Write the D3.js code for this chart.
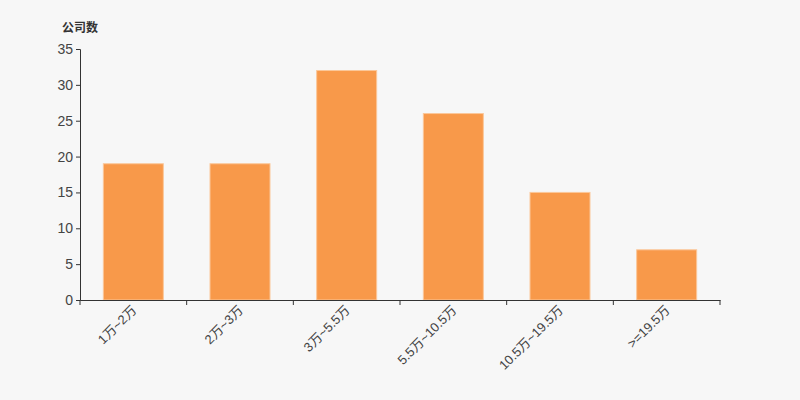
<!DOCTYPE html>
<html>
<head>
<meta charset="utf-8">
<script src="https://cdn.jsdelivr.net/npm/d3@7"></script>
<style>
  body { margin: 0; background: #f7f7f7; }
  text { font-family: "Liberation Sans", Arial, "Noto Sans CJK SC", sans-serif; }
</style>
</head>
<body>
<main></main>
<script>
// data
let categories = ["1万~2万", "2万~3万", "3万~5.5万", "5.5万~10.5万", "10.5万~19.5万", ">=19.5万"]
let counts = [19, 19, 32, 26, 15, 7]
let yTicks = [0, 5, 10, 15, 20, 25, 30, 35]

let svg = d3.select('main').append('svg')
    .attr('width', 800)
    .attr('height', 400)
    .style('background', '#f7f7f7')

let x = d3.scaleBand()
    .domain(categories)
    .range([80, 720])
    .paddingInner(0)
    .paddingOuter(0)

let y = d3.scaleLinear()
    .domain([0, 35])
    .range([300, 49])

// bars
svg.append('g').selectAll('rect')
    .data(counts)
    .join('rect')
    .attr('x', (d, i) => x(categories[i]) + x.bandwidth() / 2 - 30)
    .attr('y', d => y(d))
    .attr('width', 60)
    .attr('height', d => y(0) - y(d))
    .attr('fill', '#f8994a')
    .attr('stroke', '#fbc79a')
    .attr('stroke-width', 1)

// y axis
let yAxis = svg.append('g')
    .attr('transform', 'translate(80,0)')
    .call(d3.axisLeft(y).tickValues(yTicks).tickSize(4).tickPadding(3))
yAxis.selectAll('path, line').attr('stroke', '#333')
yAxis.selectAll('text').attr('fill', '#444').style('font-size', '14px')

// x axis
let xAxis = svg.append('g')
    .attr('transform', 'translate(0,300)')
    .call(d3.axisBottom(x).tickSize(0).tickFormat(''))
xAxis.select('.domain').attr('stroke', '#333')
xAxis.selectAll('.tick').remove()

// tick marks at band edges
let edges = categories.map(c => x(c)).concat([x.range()[1]])
svg.append('g').selectAll('line')
    .data(edges)
    .join('line')
    .attr('x1', d => d).attr('x2', d => d)
    .attr('y1', 300).attr('y2', 305)
    .attr('stroke', '#333')

// rotated labels
svg.append('g').selectAll('text')
    .data(categories)
    .join('text')
    .attr('transform', d => `translate(${x(d) + x.bandwidth() / 2 + 4},${311}) rotate(-45)`)
    .attr('text-anchor', 'end')
    .attr('fill', '#444')
    .style('font-size', '13px')
    .text(d => d)

// y axis title
svg.append('text')
    .attr('x', 62)
    .attr('y', 32)
    .attr('fill', '#333')
    .style('font-size', '12px')
    .style('font-weight', 'bold')
    .text('公司数')
</script>
</body>
</html>
